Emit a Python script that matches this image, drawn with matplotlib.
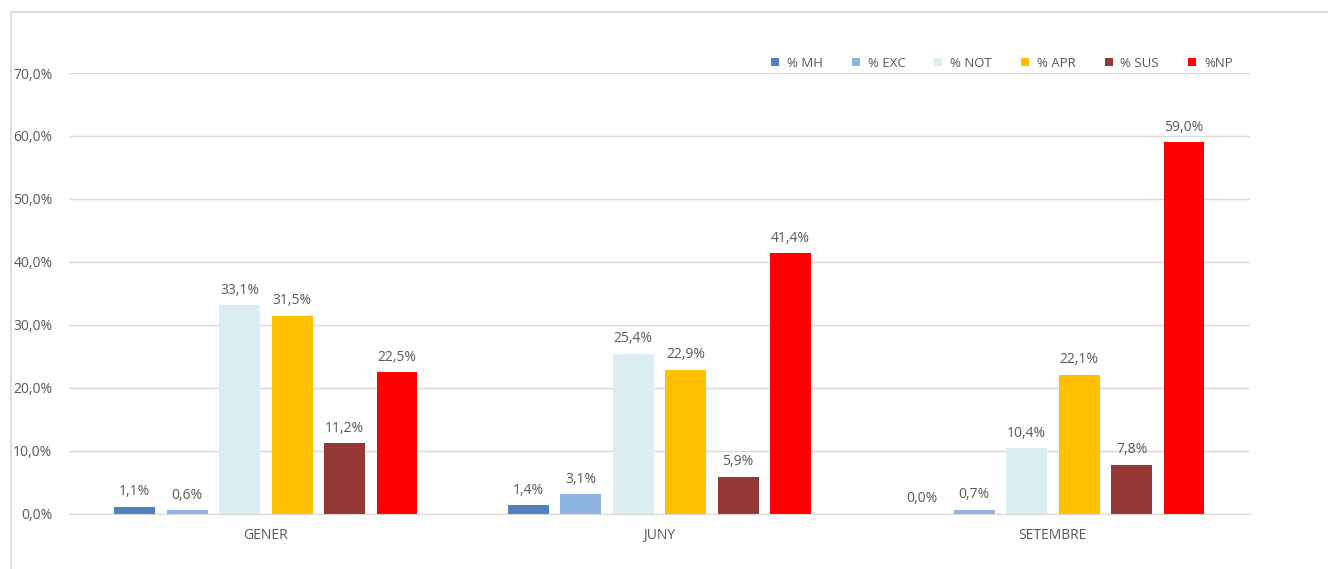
import matplotlib.pyplot as plt
import numpy as np
from matplotlib.patches import Rectangle

plt.rcParams['font.family'] = ['Open Sans', 'DejaVu Sans']

# dades
convocatories = ["GENER", "JUNY", "SETEMBRE"]
series = ["% MH", "% EXC", "% NOT", "% APR", "% SUS", "%NP"]
mh = [1.1, 1.4, 0.0]
exc = [0.6, 3.1, 0.7]
notable = [33.1, 25.4, 10.4]
apr = [31.5, 22.9, 22.1]
sus = [11.2, 5.9, 7.8]
np_ = [22.5, 41.4, 59.0]
valors = [mh, exc, notable, apr, sus, np_]
colors = ["#4F81BD", "#8EB4E3", "#DAEEF3", "#FFC000", "#953735", "#FF0000"]

fig = plt.figure(figsize=(13.28, 5.69), dpi=100)
ax = fig.add_axes([0.052, 0.0967, 0.889, 0.775])

# marc exterior
fig.patches.append(Rectangle((11 / 1328, -0.1), 1.2, 1 - 12 / 569 + 0.1,
                             transform=fig.transFigure, fill=False,
                             edgecolor="#d9d9d9", linewidth=1.2))

x = np.arange(len(convocatories))
pas = 0.1333
amplada = 0.104
for i, (nom, vals, c) in enumerate(zip(series, valors, colors)):
    pos = x + (i - 2.5) * pas
    bars = ax.bar(pos, vals, amplada, color=c, label=nom, zorder=3)
    for b, v in zip(bars, vals):
        ax.text(b.get_x() + b.get_width() / 2, v + 1.2,
                f"{v:.1f}%".replace(".", ","), ha="center", va="bottom",
                fontsize=10, color="#595959")

ax.set_xlim(-0.5, 2.5)
ax.set_ylim(0, 70)
ax.set_yticks(np.arange(0, 71, 10))
ax.set_yticklabels([f"{t:.1f}%".replace(".", ",") for t in np.arange(0, 71, 10)])
ax.set_xticks(x)
ax.set_xticklabels(convocatories)
ax.tick_params(axis="both", length=0, labelsize=10, labelcolor="#595959")
ax.tick_params(axis="y", pad=12)
ax.tick_params(axis="x", pad=10)
ax.grid(axis="y", color="#d9d9d9", linewidth=1, zorder=0)
for s in ["top", "right", "left"]:
    ax.spines[s].set_visible(False)
ax.spines["bottom"].set_color("#d9d9d9")
ax.spines["bottom"].set_zorder(4)

leg = ax.legend(loc="lower right", bbox_to_anchor=(0.99, 0.995), ncol=6,
                frameon=False, fontsize=9.5, handlelength=0.6, handleheight=0.6,
                columnspacing=2.2, handletextpad=0.6, borderaxespad=0)
for t in leg.get_texts():
    t.set_color("#595959")

fig.savefig("out.png", dpi=100)
